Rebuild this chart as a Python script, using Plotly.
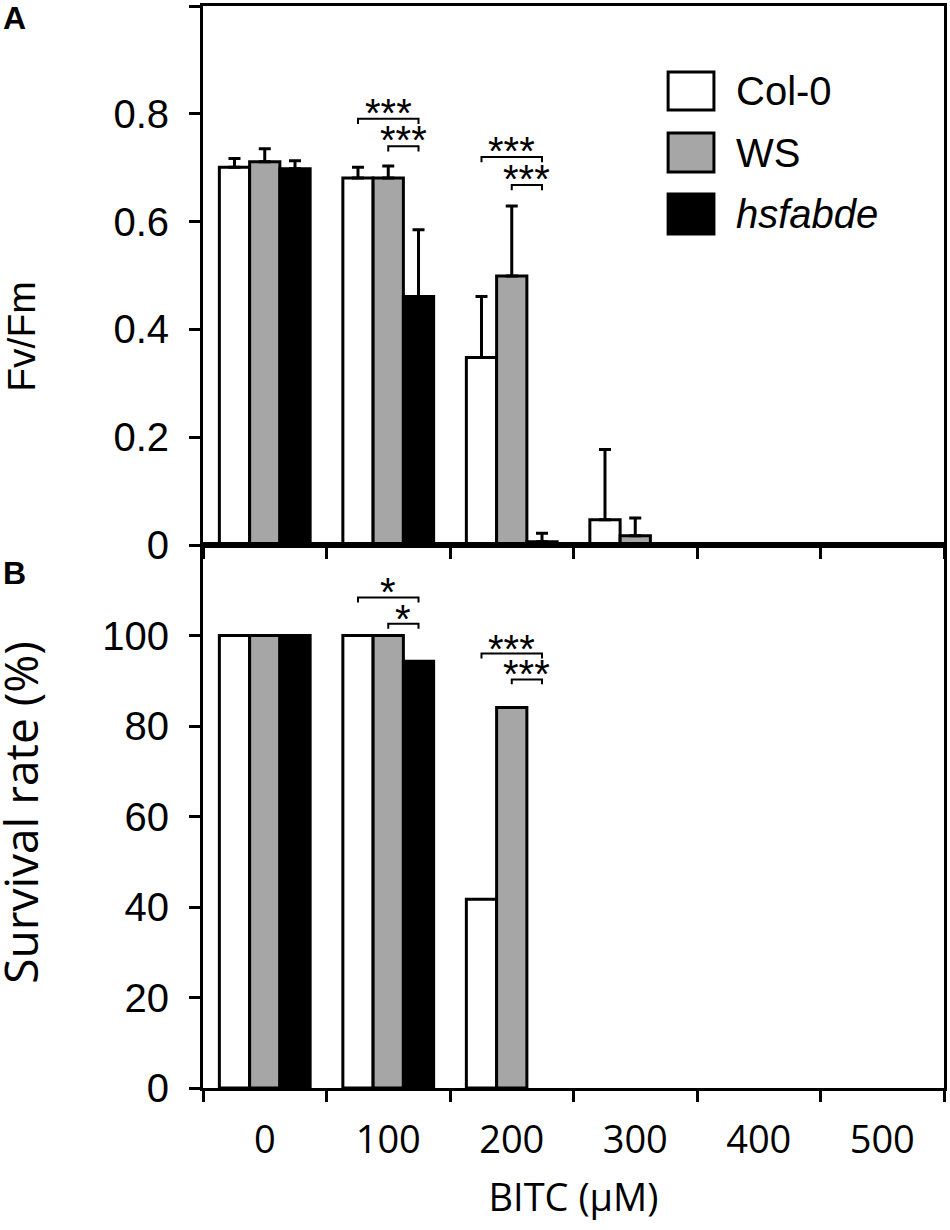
import plotly.graph_objects as go

# ---------------- data ----------------
doses = ["0", "100", "200", "300", "400", "500"]
genotypes = ["Col-0", "WS", "hsfabde"]
colors = ["#ffffff", "#a6a6a6", "#000000"]

fvfm_col0 = [0.701, 0.681, 0.348, 0.047, 0.0, 0.0]
fvfm_ws = [0.711, 0.681, 0.499, 0.017, 0.0, 0.0]
fvfm_hsf = [0.698, 0.461, 0.006, 0.0, 0.0, 0.0]
fvfm_col0_err = [0.016, 0.020, 0.113, 0.130, 0.0, 0.0]
fvfm_ws_err = [0.024, 0.022, 0.130, 0.033, 0.0, 0.0]
fvfm_hsf_err = [0.015, 0.124, 0.016, 0.0, 0.0, 0.0]

surv_col0 = [100, 100, 41.7, 0, 0, 0]
surv_ws = [100, 100, 84.1, 0, 0, 0]
surv_hsf = [100, 94.3, 0, 0, 0, 0]

# significance: (dose index, from genotype idx, to genotype idx, level, label)
sig_a = [(1, 0, 2, 0.791, "***"), (1, 1, 2, 0.740, "***"),
         (2, 0, 2, 0.720, "***"), (2, 1, 2, 0.668, "***")]
sig_b = [(1, 0, 2, 108.4, "*"), (1, 1, 2, 102.6, "*"),
         (2, 0, 2, 96.0, "***"), (2, 1, 2, 90.3, "***")]

BARGAP = 0.265
LINE = 3
AX_FONT = "Liberation Sans, Arial, sans-serif"
X_FONT = "Open Sans, sans-serif"

fig = go.Figure()

fv = [fvfm_col0, fvfm_ws, fvfm_hsf]
fe = [fvfm_col0_err, fvfm_ws_err, fvfm_hsf_err]
sv = [surv_col0, surv_ws, surv_hsf]


def outline(vals):
    return [LINE if v > 0 else 0 for v in vals]


for g in range(3):
    fig.add_trace(go.Bar(
        x=doses, y=fv[g], name=genotypes[g], xaxis="x", yaxis="y",
        marker=dict(color=colors[g], line=dict(color="black", width=outline(fv[g]))),
        error_y=dict(type="data", symmetric=False, array=fe[g],
                     arrayminus=[0] * len(doses), color="black",
                     thickness=LINE, width=6),
        showlegend=False, offsetgroup=str(g)))
for g in range(3):
    fig.add_trace(go.Bar(
        x=doses, y=sv[g], name=genotypes[g], xaxis="x2", yaxis="y2",
        marker=dict(color=colors[g], line=dict(color="black", width=outline(sv[g]))),
        showlegend=False, offsetgroup=str(g)))

bw = (1 - BARGAP) / 3


def gx(d, g):
    return d + (g - 1) * bw


shapes = []
annots = []


def add_sig(lst, xref, yref, tick, fsize, yshift):
    for d, g0, g1, lvl, lab in lst:
        x0, x1 = gx(d, g0), gx(d, g1)
        shapes.append(dict(type="path", xref=xref, yref=yref,
                           path=f"M {x0} {lvl - tick} L {x0} {lvl} L {x1} {lvl} L {x1} {lvl - tick}",
                           line=dict(color="black", width=2)))
        annots.append(dict(x=(x0 + x1) / 2, y=lvl, xref=xref, yref=yref,
                           text=lab, showarrow=False, yanchor="bottom",
                           yshift=yshift,
                           font=dict(family=AX_FONT, size=fsize, color="black")))


add_sig(sig_a, "x", "y", 0.01, 40, -18)
add_sig(sig_b, "x2", "y2", 1.1, 40, -19)

# legend drawn manually
PW, PH, PL, PB = 744, 1082, 203, 1088
leg_y = [(72, 110), (133, 172), (194, 234)]
for g in range(3):
    y0, y1 = leg_y[g]
    shapes.append(dict(type="rect", xref="paper", yref="paper",
                       x0=(670 - PL) / PW, x1=(716 - PL) / PW,
                       y0=(PB - y1) / PH, y1=(PB - y0) / PH,
                       fillcolor=colors[g], line=dict(color="black", width=LINE)))
    txt = f"<i>{genotypes[g]}</i>" if g == 2 else genotypes[g]
    annots.append(dict(x=(736 - PL) / PW, y=(PB - (y0 + y1) / 2) / PH,
                       xref="paper", yref="paper", text=txt, showarrow=False,
                       xanchor="left", yanchor="middle",
                       font=dict(family=AX_FONT, size=40, color="black")))

# panel labels
annots.append(dict(x=(0 - PL) / PW, y=(PB + 2) / PH, xref="paper", yref="paper",
                   text="<b>A</b>", showarrow=False, xanchor="left", yanchor="top",
                   font=dict(family=AX_FONT, size=32, color="black")))
annots.append(dict(x=(0 - PL) / PW, y=(PB - 553) / PH, xref="paper", yref="paper",
                   text="<b>B</b>", showarrow=False, xanchor="left", yanchor="top",
                   font=dict(family=AX_FONT, size=32, color="black")))
# y titles
annots.append(dict(x=(20 - PL) / PW, y=(PB - 337) / PH, xref="paper", yref="paper",
                   text="Fv/Fm", showarrow=False, textangle=-90,
                   xanchor="center", yanchor="middle",
                   font=dict(family=AX_FONT, size=39, color="black")))
annots.append(dict(x=(19 - PL) / PW, y=(PB - 812) / PH, xref="paper", yref="paper",
                   text="Survival rate (%)", showarrow=False, textangle=-90,
                   xanchor="center", yanchor="middle",
                   font=dict(family=X_FONT, size=46, color="black")))

splitB = 543 / 1082
axis_common = dict(showline=True, linecolor="black", linewidth=LINE, mirror=True,
                   ticks="outside", tickcolor="black", tickwidth=LINE, ticklen=11,
                   showgrid=False, zeroline=False)

fig.update_layout(
    width=950, height=1230,
    margin=dict(l=203, r=3, t=6, b=142),
    paper_bgcolor="white", plot_bgcolor="white",
    barmode="group", bargap=BARGAP, bargroupgap=0,
    xaxis=dict(domain=[0, 1], anchor="y", type="category", categoryorder="array",
               categoryarray=doses, range=[-0.5, 5.5], tickson="boundaries",
               showticklabels=False, **axis_common),
    yaxis=dict(domain=[splitB, 1], anchor="x", range=[0, 1.0],
               tickvals=[0, 0.2, 0.4, 0.6, 0.8, 1.0],
               ticktext=["0", "0.2", "0.4", "0.6", "0.8", ""],
               ticklabelstandoff=12,
               tickfont=dict(family=AX_FONT, size=40, color="black"), **axis_common),
    xaxis2=dict(domain=[0, 1], anchor="y2", type="category", categoryorder="array",
                categoryarray=doses, range=[-0.5, 5.5], tickson="boundaries",
                ticklabelstandoff=16,
                tickfont=dict(family=X_FONT, size=38, color="black"),
                title=dict(text="BITC (μM)", standoff=22,
                           font=dict(family=X_FONT, size=38, color="black")),
                **axis_common),
    yaxis2=dict(domain=[0, splitB], anchor="x2", range=[0, 120],
                tickvals=[0, 20, 40, 60, 80, 100],
                ticklabelstandoff=12,
                tickfont=dict(family=AX_FONT, size=40, color="black"), **axis_common),
    shapes=shapes, annotations=annots,
)

fig.write_html("out.html", config={"displayModeBar": False},
               post_script="document.body.style.margin='0';document.body.style.padding='0';")
